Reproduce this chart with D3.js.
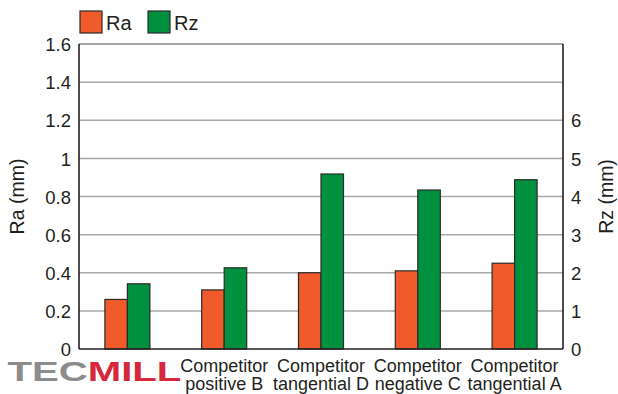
<!DOCTYPE html>
<html>
<head>
<meta charset="utf-8">
<script src="https://cdn.jsdelivr.net/npm/d3@7"></script>
<style>
  body { margin: 0; background: #fff; }
  svg { display: block; font-family: "Liberation Sans", Arial, Helvetica, sans-serif; }
</style>
</head>
<body>
<div id="chart"></div>
<script>
// data
var categories = ["TECMILL", "Competitor positive B", "Competitor tangential D", "Competitor negative C", "Competitor tangential A"];
var labelLines = [["TECMILL"], ["Competitor", "positive B"], ["Competitor", "tangential D"], ["Competitor", "negative C"], ["Competitor", "tangential A"]];
var raValues = [0.26, 0.31, 0.40, 0.41, 0.45];
var rzValues = [1.71, 2.13, 4.59, 4.17, 4.44];
var raTicks = [0, 0.2, 0.4, 0.6, 0.8, 1, 1.2, 1.4, 1.6];
var rzTicks = [0, 1, 2, 3, 4, 5, 6];
var seriesNames = ["Ra", "Rz"];

var W = 618, H = 394;
var margin = { top: 44, right: 55, bottom: 45, left: 79 };
var width = W - margin.left - margin.right, height = H - margin.top - margin.bottom;
var colors = { Ra: "#f15a2b", Rz: "#00913f" };
var barW = 22.5;

var svg = d3.select("#chart").append("svg")
    .attr("width", W).attr("height", H);
var g = svg.append("g")
    .attr("transform", "translate(" + margin.left + "," + margin.top + ")");

var x = d3.scaleBand().domain(categories).range([0, width]).padding(0);
var yRa = d3.scaleLinear().domain([0, 1.6]).range([height, 0]);
var yRz = d3.scaleLinear().domain([0, 8]).range([height, 0]);

// grid lines
g.append("g").selectAll("line")
    .data(raTicks.filter(function(t) { return t > 0; }))
    .enter().append("line")
        .attr("x1", 0).attr("x2", width)
        .attr("y1", function(d) { return yRa(d); })
        .attr("y2", function(d) { return yRa(d); })
        .attr("stroke", function(d) { return d == 1.6 ? "#8a8a8a" : "#a9a9a9"; })
        .attr("stroke-width", 1.5);

// bars
var groups = g.append("g").selectAll("g")
    .data(categories)
    .enter().append("g")
        .attr("transform", function(d) { return "translate(" + (x(d) + x.bandwidth() / 2) + ",0)"; });

groups.append("rect")
    .attr("x", -barW)
    .attr("y", function(d, i) { return yRa(raValues[i]); })
    .attr("width", barW)
    .attr("height", function(d, i) { return height - yRa(raValues[i]); })
    .attr("fill", colors.Ra).attr("stroke", "#2a2a2a").attr("stroke-width", 1.2);

groups.append("rect")
    .attr("x", 0)
    .attr("y", function(d, i) { return yRz(rzValues[i]); })
    .attr("width", barW)
    .attr("height", function(d, i) { return height - yRz(rzValues[i]); })
    .attr("fill", colors.Rz).attr("stroke", "#2a2a2a").attr("stroke-width", 1.2);

// frame: left, right, bottom
var frame = g.append("g").attr("stroke", "#231f20").attr("stroke-width", 1.6).attr("fill", "none");
frame.append("line").attr("x1", 0).attr("x2", 0).attr("y1", 0).attr("y2", height);
frame.append("line").attr("x1", width).attr("x2", width).attr("y1", 0).attr("y2", height);
frame.append("line").attr("x1", 0).attr("x2", width).attr("y1", height).attr("y2", height);

// left axis labels
var leftAxis = d3.axisLeft(yRa).tickValues(raTicks).tickSize(0).tickPadding(8)
    .tickFormat(function(d) { return d3.format("")(+d.toFixed(1)); });
var la = g.append("g").call(leftAxis);
la.select(".domain").remove();
la.selectAll("text").attr("font-size", 18.5).attr("fill", "#231f20")
    .attr("font-family", "Liberation Sans, Arial, sans-serif").attr("dy", "0.36em");

// right axis labels
var rightAxis = d3.axisRight(yRz).tickValues(rzTicks).tickSize(0).tickPadding(8);
var ra = g.append("g").attr("transform", "translate(" + width + ",0)").call(rightAxis);
ra.select(".domain").remove();
ra.selectAll("text").attr("font-size", 18.5).attr("fill", "#231f20")
    .attr("font-family", "Liberation Sans, Arial, sans-serif").attr("dy", "0.36em");

// category labels
var lab = g.append("g").selectAll("text")
    .data(categories.slice(1))
    .enter().append("text")
        .attr("text-anchor", "middle")
        .attr("font-size", 18)
        .attr("fill", "#231f20")
        .attr("transform", function(d) { return "translate(" + (x(d) + x.bandwidth() / 2) + "," + (height + 23) + ")"; });
lab.selectAll("tspan")
    .data(function(d) { return labelLines[categories.indexOf(d)]; })
    .enter().append("tspan")
        .attr("x", 0)
        .attr("dy", function(d, i) { return i == 0 ? 0 : 18; })
        .text(function(d) { return d; });

// logo in place of the first category label
var logo = g.append("text")
    .attr("x", x(categories[0]) + x.bandwidth() / 2 - 33)
    .attr("y", height + 32)
    .attr("text-anchor", "middle")
    .attr("font-family", "Liberation Sans, Arial, sans-serif")
    .attr("font-weight", 700)
    .attr("font-size", 28)
    .attr("textLength", 174)
    .attr("lengthAdjust", "spacingAndGlyphs");
logo.append("tspan").attr("fill", "#8c8c8c").text("TEC");
logo.append("tspan").attr("fill", "#d6283c").text("MILL");

// axis titles
svg.append("text")
    .attr("transform", "translate(24," + (margin.top + height / 2) + ") rotate(-90)")
    .attr("text-anchor", "middle").attr("font-size", 19.5).attr("fill", "#231f20")
    .text("Ra (mm)");
svg.append("text")
    .attr("transform", "translate(613," + (margin.top + height / 2) + ") rotate(-90)")
    .attr("text-anchor", "middle").attr("font-size", 19.5).attr("fill", "#231f20")
    .text("Rz (mm)");

// legend
var legend = svg.append("g").selectAll("g")
    .data(seriesNames)
    .enter().append("g")
        .attr("transform", function(d, i) { return "translate(" + (80 + i * 68) + ",11)"; });
legend.append("rect")
    .attr("width", 22).attr("height", 22)
    .attr("fill", function(d) { return colors[d]; })
    .attr("stroke", "#2a2a2a").attr("stroke-width", 1.2);
legend.append("text")
    .attr("x", 26).attr("y", 19)
    .attr("font-size", 20).attr("fill", "#231f20")
    .text(function(d) { return d; });
</script>
</body>
</html>
